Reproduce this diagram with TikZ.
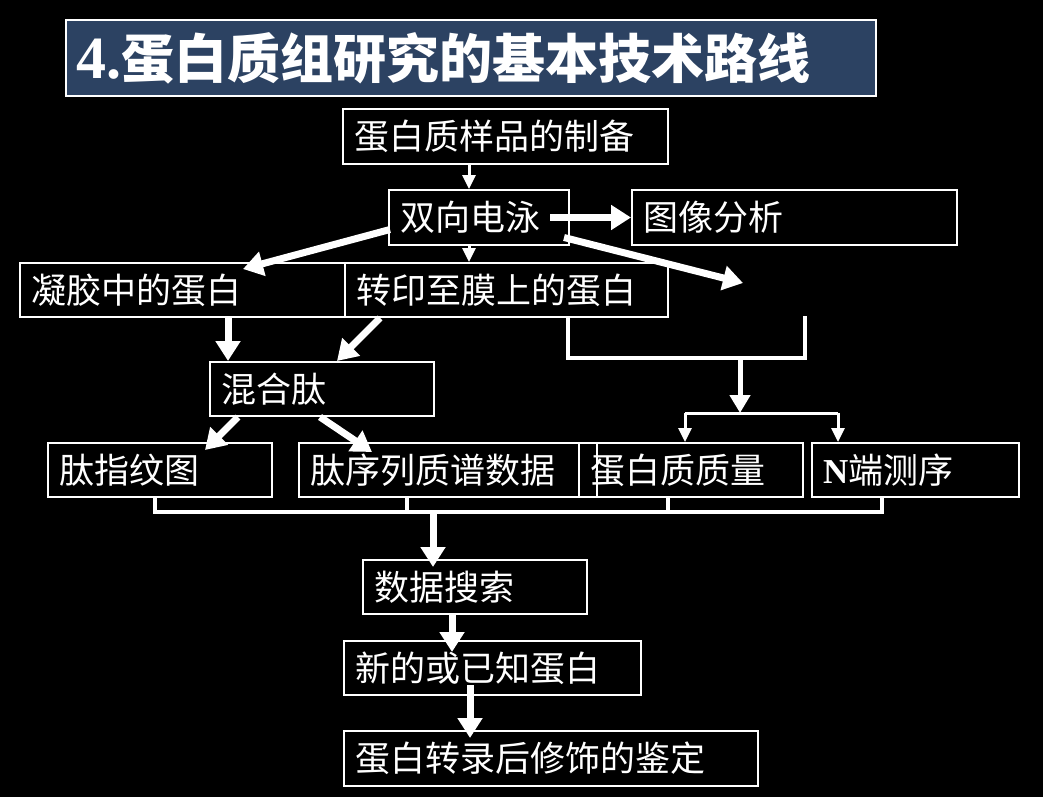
\documentclass[tikz,border=0pt]{standalone}
\usepackage{fontspec}
\usetikzlibrary{arrows.meta}
\newfontfamily\cjk{Noto Sans CJK SC}
\newfontfamily\serifb{Liberation Serif}
\definecolor{titleblue}{RGB}{44,66,98}
\begin{document}
\begin{tikzpicture}[x=1pt,y=-1pt,
  box/.style={draw=white, line width=2pt, text=white, anchor=north west,
    inner xsep=11pt, inner ysep=0pt, align=left,
    font=\cjk\fontsize{35}{40}\selectfont},
  thinarr/.style={draw=white, line width=3pt, -{Triangle[width=13pt,length=14pt]}},
  thickarr/.style={draw=white, line width=7pt, -{Triangle[width=24pt,length=20pt]}},
  midarr/.style={draw=white, line width=5pt, -{Triangle[width=20pt,length=18pt]}},
  bracket/.style={draw=white, line width=4.5pt},
  thinline/.style={draw=white, line width=3pt}]
\path[use as bounding box, fill=black] (0,0) rectangle (1043,797);

% title
\node[draw=white, line width=2pt, fill=titleblue, text=white, anchor=north west,
  minimum width=810pt, minimum height=76pt, text width=790pt, inner xsep=10pt, align=left]
  (title) at (65,19) {{\serifb\bfseries\fontsize{60}{66}\selectfont 4.}{\cjk\bfseries\fontsize{53}{60}\selectfont 蛋白质组研究的基本技术路线}};

% boxes
\node[box, text width=303pt, minimum height=55pt] (prep) at (342,108) {蛋白质样品的制备};
\node[box, text width=158pt, minimum height=55pt] (ef) at (388,189) {双向电泳};
\node[box, text width=303pt, minimum height=55pt] (img) at (631,189) {图像分析};
\node[box, text width=303pt, minimum height=54pt] (gel) at (19,262) {凝胶中的蛋白};
\node[box, text width=301pt, minimum height=54pt] (mem) at (344,262) {转印至膜上的蛋白};
\node[box, text width=202pt, minimum height=54pt] (mix) at (209,361) {混合肽};
\node[box, text width=202pt, minimum height=54pt] (pmf) at (47,442) {肽指纹图};
\node[box, text width=276pt, minimum height=54pt] (ms) at (298,442) {肽序列质谱数据};
\node[box, text width=202pt, minimum height=54pt, inner xsep=11pt] (mass) at (578,442) {蛋白质质量};
\node[box, text width=185pt, minimum height=54pt] (nterm) at (811,442) {{\serifb\bfseries N}端测序};
\node[box, text width=202pt, minimum height=54pt] (search) at (362,559) {数据搜索};
\node[box, text width=275pt, minimum height=54pt] (newp) at (343,640) {新的或已知蛋白};
\node[box, text width=392pt, minimum height=55pt] (ptm) at (343,730) {蛋白转录后修饰的鉴定};

% connectors
\draw[thinarr] (469,0 |- prep.south) -- (469,0 |- ef.north);
\draw[thickarr] ([xshift=-20pt]ef.east) -- (img.west);
\draw[thickarr] ([shift={(2,12)}]ef.west) -- ([shift={(224,7)}]gel.north west);
\draw[thinarr] (469,0 |- ef.south) -- (469,0 |- mem.north);
\coordinate (blank) at (743,283);
\draw[thickarr] ([shift={(-6,20)}]ef.east) -- (blank);
\draw[thickarr] (228,0 |- gel.south) -- (228,0 |- mix.north);
\draw[thickarr] ([xshift=36pt]mem.south west) -- ([xshift=128pt]mix.north west);

\coordinate (bl) at (568,358);
\coordinate (br) at (805,358);
\coordinate (bm) at (740,358);
\coordinate (bmt) at (740,413);
\draw[bracket] (bl |- mem.south) -- (bl) -- (br) -- (805,316);
\draw[midarr] (bm) -- (bmt);
\coordinate (sl) at (685,413);
\coordinate (sr) at (838,413);
\draw[thinline] (sl) -- (sr);
\draw[thinarr] (sl) -- (sl |- mass.north);
\draw[thinarr] (sr) -- (sr |- nterm.north);

\draw[thickarr] ([xshift=29pt]mix.south west) -- ([shift={(158,8)}]pmf.north west);
\draw[thickarr] ([xshift=111pt]mix.south west) -- ([shift={(74,10)}]ms.north west);

\coordinate (j1) at (155,512);
\coordinate (j2) at (407,512);
\coordinate (j3) at (668,512);
\coordinate (j4) at (882,512);
\draw[bracket] (j1 |- pmf.south) -- (j1) -- (j4) -- (j4 |- nterm.south);
\draw[bracket] (j2 |- ms.south) -- (j2);
\draw[bracket] (j3 |- mass.south) -- (j3);
\coordinate (jm) at (433,512);
\coordinate (s1) at (452,613);
\coordinate (s2) at (452,652);
\coordinate (n1) at (470,685);
\coordinate (n2) at (470,738);
\draw[thickarr] (jm) -- ([shift={(0,8)}]jm |- search.north);
\draw[thickarr] (s1 |- search.south) -- (s2);
\draw[thickarr] (n1) -- (n2);
\end{tikzpicture}
\end{document}
